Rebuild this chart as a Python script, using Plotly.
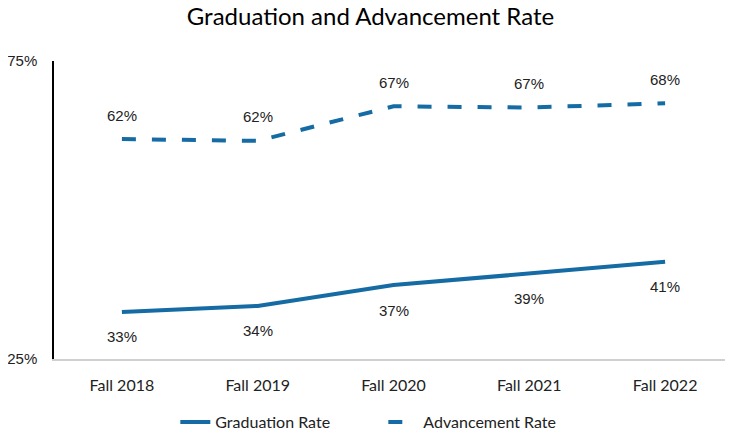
import plotly.graph_objects as go

terms = ['Fall 2018', 'Fall 2019', 'Fall 2020', 'Fall 2021', 'Fall 2022']
graduation_rate = [32.9, 33.9, 37.4, 39.3, 41.3]
advancement_rate = [61.9, 61.6, 67.4, 67.2, 67.9]
y_ticks = [25, 75]

line_color = '#156ba3'

fig = go.Figure()

fig.add_trace(go.Scatter(
    x=terms, y=graduation_rate, mode='lines', name='Graduation Rate',
    line=dict(color=line_color, width=4)
))
fig.add_trace(go.Scatter(
    x=terms, y=advancement_rate, mode='lines', name='Advancement Rate',
    line=dict(color=line_color, width=4, dash='14px,16px')
))

# data labels: graduation below the line, advancement above
for x, y in zip(terms, graduation_rate):
    fig.add_annotation(x=x, y=y, text=f'{round(y)}%', showarrow=False, yshift=-25,
                       font=dict(size=15, color='#222222', family='Liberation Sans'))
for x, y in zip(terms, advancement_rate):
    fig.add_annotation(x=x, y=y, text=f'{round(y)}%', showarrow=False, yshift=24,
                       font=dict(size=15, color='#222222', family='Liberation Sans'))

# the page sits 8px in from the window corner, so the figure is sized a bit smaller
fig.update_layout(
    width=725, height=427,
    title=dict(text='Graduation and Advancement Rate', x=0.5, xanchor='center', y=1.0, yanchor='top',
               font=dict(size=24, color='#000000', family='Lato'), automargin=False),
    paper_bgcolor='white', plot_bgcolor='white',
    margin=dict(l=46, r=0, t=53, b=76),
    font=dict(family='Liberation Sans', size=15, color='#222222'),
    showlegend=True,
    legend=dict(orientation='h', x=0.485, xanchor='center', yref='container', y=0.03, yanchor='middle',
                font=dict(size=16, family='Lato', color='#222222'), entrywidth=163),
    xaxis=dict(range=[-0.5, 4.5], showline=True, linecolor='#d0d0d0', linewidth=1.5, showgrid=False,
               ticks='', ticklabelstandoff=11, automargin=False, tickfont=dict(size=16, family='Lato')),
    yaxis=dict(range=[25, 75], tickvals=y_ticks, ticktext=[f'{v}%' for v in y_ticks],
               showline=True, linecolor='#000000', linewidth=1.5, showgrid=False, zeroline=False,
               ticks='', ticklabelstandoff=12, automargin=False, tickfont=dict(size=15)),
)

fig.write_html('out.html')
